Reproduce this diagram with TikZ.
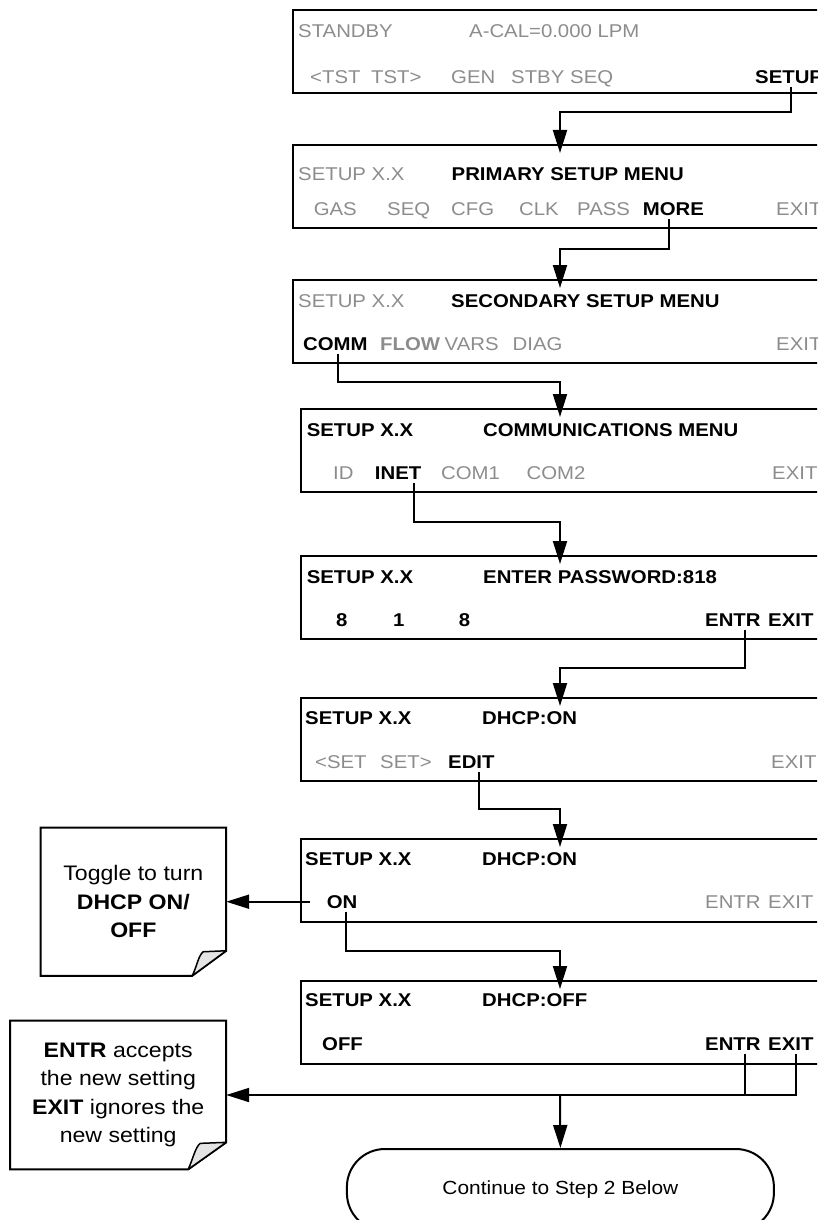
\documentclass[tikz,border=0pt]{standalone}
\usepackage{fontspec}
\setmainfont{Liberation Sans}[FakeStretch=1.1]
\usepackage{tikz}
\usetikzlibrary{arrows.meta, positioning}
\usepackage{xcolor}
\definecolor{lcdgray}{HTML}{8C8C8C}
\definecolor{foldgray}{HTML}{E4E4E4}

\begin{document}
\begin{tikzpicture}[x=1pt, y=1pt,
    menubox/.style={draw, line width=2pt, minimum height=83pt, outer sep=0pt},
    keyoff/.style={anchor=west, inner xsep=0pt, inner ysep=3pt, text height=13.2pt, text depth=0pt,
                   text=lcdgray, font=\fontsize{18.5}{22}\selectfont},
    keyoffbf/.style={keyoff, font=\fontsize{18.5}{22}\selectfont\bfseries},
    keyon/.style={keyoff, text=black, font=\fontsize{18.5}{22}\selectfont\bfseries},
    notetext/.style={align=center, inner sep=0pt, font=\fontsize{21}{28.5}\selectfont},
    wire/.style={line width=2pt, line join=miter},
    flow/.style={wire, -{Triangle[length=23pt,width=14pt]}},
    flowin/.style={flow, shorten >=-8pt},
    endbox/.style={draw, line width=2pt, rounded corners=38pt, minimum width=427pt,
                   minimum height=82pt, font=\fontsize{19}{22}\selectfont}]
  \useasboundingbox (0,0) rectangle (817,-1220);
  \clip (0,0) rectangle (817,-1220);

  % menu screens
  \node[menubox, minimum width=535pt] (m1) at (560,-51.5) {};
  \node[menubox, minimum width=535pt, below=52pt of m1] (m2) {};
  \node[menubox, minimum width=535pt, below=52pt of m2] (m3) {};
  \node[menubox, minimum width=519pt, below=46pt of m3] (m4) {};
  \node[menubox, minimum width=519pt, below=64pt of m4] (m5) {};
  \node[menubox, minimum width=519pt, below=59pt of m5] (m6) {};
  \node[menubox, minimum width=519pt, below=58pt of m6] (m7) {};
  \node[menubox, minimum width=519pt, below=59pt of m7] (m8) {};

  % STANDBY screen
  \node[keyoff] (m1-title) at (298,-30.5) {STANDBY};
  \node[keyoff] (m1-acal) at (469,-30.5) {A-CAL=0.000 LPM};
  \node[keyoff] (m1-tstl) at (310,-77) {<TST};
  \node[keyoff] (m1-tstr) at (371,-77) {TST>};
  \node[keyoff] (m1-gen) at (451,-77) {GEN};
  \node[keyoff] (m1-stby) at (511,-77) {STBY};
  \node[keyoff] (m1-seq) at (570,-77) {SEQ};
  \node[keyon] (m1-setup) at (755,-77) {SETUP};

  % primary setup menu
  \node[keyoff] (m2-title) at (298,-174) {SETUP X.X};
  \node[keyon] (m2-menu) at (451.5,-174) {PRIMARY SETUP MENU};
  \node[keyoff] (m2-gas) at (313.6,-209) {GAS};
  \node[keyoff] (m2-seq) at (387,-209) {SEQ};
  \node[keyoff] (m2-cfg) at (451,-209) {CFG};
  \node[keyoff] (m2-clk) at (519,-209) {CLK};
  \node[keyoff] (m2-pass) at (577,-209) {PASS};
  \node[keyon] (m2-more) at (642.6,-209) {MORE};
  \node[keyoff] (m2-exit) at (776,-209) {EXIT};

  % secondary setup menu
  \node[keyoff] (m3-title) at (298,-300.5) {SETUP X.X};
  \node[keyon] (m3-menu) at (451,-300.5) {SECONDARY SETUP MENU};
  \node[keyon] (m3-comm) at (303,-344) {COMM};
  \node[keyoffbf] (m3-flow) at (380,-344) {FLOW};
  \node[keyoff] (m3-vars) at (444.5,-344) {VARS};
  \node[keyoff] (m3-diag) at (512.5,-344) {DIAG};
  \node[keyoff] (m3-exit) at (776,-344) {EXIT};

  % communications menu
  \node[keyon] (m4-title) at (306.6,-430) {SETUP X.X};
  \node[keyon] (m4-menu) at (483,-430) {COMMUNICATIONS MENU};
  \node[keyoff] (m4-id) at (333,-473) {ID};
  \node[keyon] (m4-inet) at (374.7,-473) {INET};
  \node[keyoff] (m4-com1) at (441,-473) {COM1};
  \node[keyoff] (m4-com2) at (526.5,-473) {COM2};
  \node[keyoff] (m4-exit) at (772,-473) {EXIT};

  % password
  \node[keyon] (m5-title) at (306.6,-577) {SETUP X.X};
  \node[keyon] (m5-pass) at (483,-577) {ENTER PASSWORD:818};
  \node[keyon] (m5-d1) at (336,-620) {8};
  \node[keyon] (m5-d2) at (393,-620) {1};
  \node[keyon] (m5-d3) at (458.6,-620) {8};
  \node[keyon] (m5-entr) at (705,-620) {ENTR};
  \node[keyon] (m5-exit) at (768,-620) {EXIT};

  % DHCP display
  \node[keyon] (m6-title) at (305,-718) {SETUP X.X};
  \node[keyon] (m6-dhcp) at (482,-718) {DHCP:ON};
  \node[keyoff] (m6-setl) at (315,-762) {<SET};
  \node[keyoff] (m6-setr) at (380,-762) {SET>};
  \node[keyon] (m6-edit) at (448,-762) {EDIT};
  \node[keyoff] (m6-exit) at (771,-762) {EXIT};

  % DHCP edit, on
  \node[keyon] (m7-title) at (305,-859) {SETUP X.X};
  \node[keyon] (m7-dhcp) at (482,-859) {DHCP:ON};
  \node[keyon] (m7-on) at (326.7,-901.7) {ON};
  \node[keyoff] (m7-entr) at (705,-901.7) {ENTR};
  \node[keyoff] (m7-exit) at (768,-901.7) {EXIT};

  % DHCP edit, off
  \node[keyon] (m8-title) at (305,-1000) {SETUP X.X};
  \node[keyon] (m8-dhcp) at (482,-1000) {DHCP:OFF};
  \node[keyon] (m8-off) at (322,-1044) {OFF};
  \node[keyon] (m8-entr) at (705,-1044) {ENTR};
  \node[keyon] (m8-exit) at (768,-1044) {EXIT};

  % notes
  \node[notetext, minimum width=185.3pt, minimum height=147.7pt] (n1) at (133.35,-901.7)
        {Toggle to turn\\\textbf{DHCP ON/}\\\textbf{OFF}};
  \node[notetext, minimum width=215.6pt, minimum height=148.3pt] (n2) at (118.2,-1095)
        {\textbf{ENTR} accepts\\the new setting\\\textbf{EXIT} ignores the\\new setting};
  \draw[wire] (n1.north west) -- (n1.north east) -- ([yshift=25pt]n1.south east)
        -- ([xshift=-34pt]n1.south east) -- (n1.south west) -- cycle;
  \filldraw[fill=foldgray, line width=1.5pt, line join=round] ([xshift=-34pt]n1.south east)
        .. controls ([shift={(-29pt,10pt)}]n1.south east) and ([shift={(-28pt,20pt)}]n1.south east)
        .. ([shift={(-23pt,24pt)}]n1.south east) -- ([yshift=25pt]n1.south east) -- cycle;
  \draw[wire] (n2.north west) -- (n2.north east) -- ([yshift=27pt]n2.south east)
        -- ([xshift=-38pt]n2.south east) -- (n2.south west) -- cycle;
  \filldraw[fill=foldgray, line width=1.5pt, line join=round] ([xshift=-38pt]n2.south east)
        .. controls ([shift={(-33pt,11pt)}]n2.south east) and ([shift={(-31pt,22pt)}]n2.south east)
        .. ([shift={(-26pt,26pt)}]n2.south east) -- ([yshift=27pt]n2.south east) -- cycle;

  % end
  \node[endbox] (t) at (560.4,-1190) {Continue to Step 2 Below};

  % connectors
  \draw[flowin] ([xshift=2pt]m1-setup.south) |- ([yshift=-19pt]m1.south) -- (m2.north);
  \draw[flowin] ([xshift=-4pt]m2-more.south) |- ([yshift=-21pt]m2.south) -- (m3.north);
  \draw[flowin] ([xshift=2.6pt]m3-comm.south) |- ([yshift=-19pt]m3.south) -- (m4.north);
  \draw[flowin] ([xshift=16pt]m4-inet.south) |- ([yshift=-30pt]m4.south) -- (m5.north);
  \draw[flowin] ([xshift=12pt]m5-entr.south) |- ([yshift=-29pt]m5.south) -- (m6.north);
  \draw[flowin] ([xshift=8pt]m6-edit.south) |- ([yshift=-28pt]m6.south) -- (m7.north);
  \draw[flowin] ([xshift=3.5pt]m7-on.south) |- ([yshift=-29pt]m7.south) -- (m8.north);
  \draw[flow] ([xshift=-17pt]m7-on.west) -- (n1.east);
  \draw[wire] ([xshift=12pt]m8-entr.south) -- ([xshift=12pt]m8-entr.south |- n2.east);
  \draw[flow] ([xshift=5pt]m8-exit.south) |- (n2.east);
  \draw[flow] (m8.south |- n2.east) -- (t.north);
\end{tikzpicture}
\end{document}
